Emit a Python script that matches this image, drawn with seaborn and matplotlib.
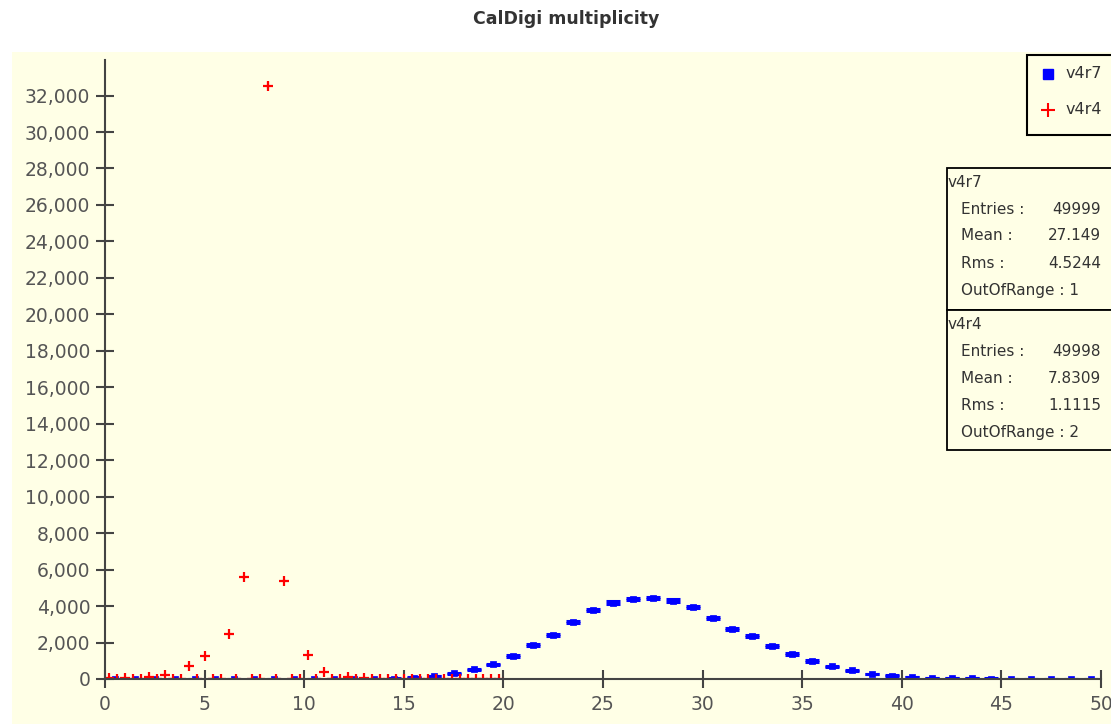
import numpy as np
import pandas as pd
import matplotlib
matplotlib.use("Agg")
import matplotlib.pyplot as plt
from matplotlib.patches import Rectangle
from matplotlib.ticker import StrMethodFormatter, MultipleLocator
import seaborn as sns

# ---------------- data ----------------
title = "CalDigi multiplicity"

# v4r7 : 50 bins over [0, 50]
v4r7_range = (0.0, 50.0)
v4r7_counts = [0, 0, 0, 0, 0, 0, 0, 0, 0, 0,
               0, 0, 5, 10, 25, 80, 170, 312, 540, 815,
               1262, 1866, 2415, 3128, 3770, 4188, 4374, 4445, 4297, 3935,
               3365, 2744, 2377, 1811, 1372, 988, 697, 477, 274, 181,
               110, 65, 45, 35, 25, 15, 10, 6, 0, 0]

# v4r4 : 50 bins over [0, 20]
v4r4_range = (0.0, 20.0)
v4r4_counts = [30, 0, 50, 0, 0, 100, 0, 220, 0, 0,
               720, 0, 1240, 0, 0, 2450, 0, 5580, 0, 0,
               32550, 0, 5400, 0, 0, 1340, 0, 390, 0, 0,
               120, 0, 50, 0, 0, 25, 0, 10, 0, 0,
               5, 0, 2, 0, 0, 0, 0, 0, 0, 0]

stats = {
    "v4r7": [("Entries :", "49999"), ("Mean :", "27.149"), ("Rms :", "4.5244"), ("OutOfRange : 1", None)],
    "v4r4": [("Entries :", "49998"), ("Mean :", "7.8309"), ("Rms :", "1.1115"), ("OutOfRange : 2", None)],
}
x_ticks = [0, 5, 10, 15, 20, 25, 30, 35, 40, 45, 50]

# ---------------- build tables ----------------
def centers(rng, n):
    edges = np.linspace(rng[0], rng[1], n + 1)
    return 0.5 * (edges[:-1] + edges[1:])

df_a = pd.DataFrame({"x": centers(v4r7_range, len(v4r7_counts)),
                     "y": np.array(v4r7_counts, float), "series": "v4r7"})
df_b = pd.DataFrame({"x": centers(v4r4_range, len(v4r4_counts)),
                     "y": np.array(v4r4_counts, float), "series": "v4r4"})

# ---------------- style ----------------
sns.set_theme(style="ticks")
plt.rcParams["font.family"] = ["DejaVu Sans"]

W, H = 1111, 724
fig = plt.figure(figsize=(W / 100, H / 100), dpi=100, facecolor="white")
panel_color = "#ffffe6"
fig.patches.append(Rectangle((12 / W, 0), 1, 1 - 52 / H, transform=fig.transFigure,
                             facecolor=panel_color, edgecolor="none", zorder=-5))

ax = fig.add_axes([105 / W, 1 - 679 / H, (1101 - 105) / W, (679 - 60) / H])
ax.set_facecolor("none")
ax.set_zorder(1)

blue = "#0000ff"
red = "#ff0000"

# v4r7 : squares with capped error bars
ax.errorbar(df_a["x"], df_a["y"], yerr=np.sqrt(df_a["y"]), fmt="none",
            ecolor=blue, elinewidth=1.5, capsize=5, capthick=2.2, zorder=3)
sns.scatterplot(data=df_a, x="x", y="y", marker="s", s=16, color=blue,
                edgecolor=blue, linewidth=0.5, ax=ax, zorder=4, legend=False)

# v4r4 : crosses with error bars
ax.errorbar(df_b["x"], df_b["y"], yerr=np.sqrt(df_b["y"]), fmt="none",
            ecolor=red, elinewidth=1.5, capsize=0, zorder=5)
sns.scatterplot(data=df_b, x="x", y="y", marker="+", s=45, color=red,
                linewidth=1.6, ax=ax, zorder=6, legend=False)

ax.set_xlim(0, 50)
ax.set_ylim(0, 33950)
ax.set_xticks(x_ticks)
ax.yaxis.set_major_locator(MultipleLocator(2000))
ax.yaxis.set_major_formatter(StrMethodFormatter("{x:,.0f}"))
ax.set_xlabel("")
ax.set_ylabel("")

spine_col = "#444444"
for s in ["top", "right"]:
    ax.spines[s].set_visible(False)
for s in ["left", "bottom"]:
    ax.spines[s].set_color(spine_col)
    ax.spines[s].set_linewidth(1.5)
    ax.spines[s].set_zorder(7)
ax.tick_params(axis="both", direction="inout", length=13, width=1.5, color=spine_col,
               labelsize=13.5, labelcolor="#555555")
ax.tick_params(axis="x", pad=5)
ax.tick_params(axis="y", pad=4)

# title
fig.text(566 / W, 1 - 19 / H, title, ha="center", va="center", fontsize=12.5,
         fontweight="bold", color="#333333")

def fx(px):
    return px / W

def fy(py):
    return 1 - py / H

# legend box
fig.patches.append(Rectangle((fx(1027), fy(135)), 0.2, (135 - 55) / H, transform=fig.transFigure,
                             facecolor=panel_color, edgecolor="black", linewidth=1.5, zorder=10))
fig.lines.append(plt.Line2D([fx(1048)], [fy(74)], marker="s", ms=6.5, color=blue,
                            linestyle="none", transform=fig.transFigure, zorder=11))
fig.lines.append(plt.Line2D([fx(1048)], [fy(110)], marker="+", ms=10, mew=1.5, color=red,
                            linestyle="none", transform=fig.transFigure, zorder=11))
fig.text(fx(1066), fy(74), "v4r7", ha="left", va="center", fontsize=11.5, color="#333333", zorder=12)
fig.text(fx(1066), fy(110), "v4r4", ha="left", va="center", fontsize=11.5, color="#333333", zorder=12)

# stats boxes
box_spans = [(168, 310), (310, 450)]
for (name, rows), (top, bot) in zip(stats.items(), box_spans):
    fig.patches.append(Rectangle((fx(947), fy(bot)), 0.2, (bot - top) / H, transform=fig.transFigure,
                                 facecolor=panel_color, edgecolor="black", linewidth=1.3, zorder=10))
    fig.text(fx(948), fy(top + 14), name, ha="left", va="center", fontsize=11,
             color="#333333", zorder=12)
    for i, (lab, val) in enumerate(rows):
        yy = fy(top + 41 + 27 * i)
        fig.text(fx(961), yy, lab, ha="left", va="center", fontsize=11, color="#333333", zorder=12)
        if val is not None:
            fig.text(fx(1101), yy, val, ha="right", va="center", fontsize=11,
                     color="#333333", zorder=12)

fig.savefig("out.png", dpi=100, facecolor="white")
